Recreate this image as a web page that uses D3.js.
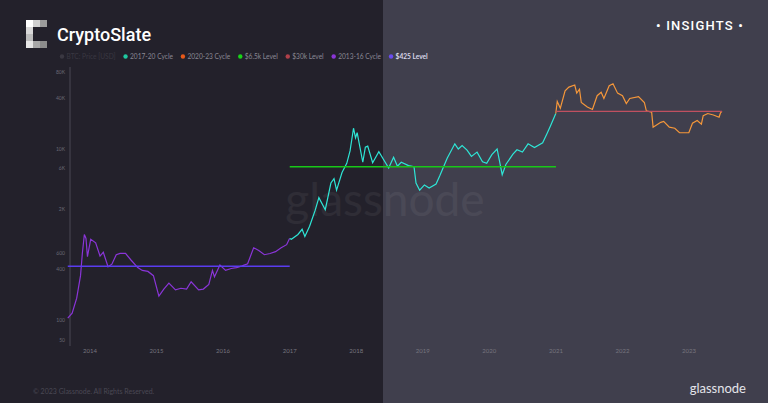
<!DOCTYPE html>
<html><head><meta charset="utf-8">
<script src="https://cdn.jsdelivr.net/npm/d3@7"></script>
<style>body{margin:0;background:#23212b}svg{display:block}</style>
</head><body>
<div class="chart"></div>
<script>
// BTC price (approximate)
var cycle1316 = [["2013-09-01",105],["2013-09-25",120],["2013-10-20",180],["2013-11-10",330],["2013-11-20",600],["2013-12-01",1000],["2013-12-10",900],["2013-12-18",550],["2014-01-05",880],["2014-02-01",800],["2014-02-25",560],["2014-03-15",620],["2014-04-10",420],["2014-05-01",450],["2014-05-25",580],["2014-06-15",600],["2014-07-15",600],["2014-08-15",500],["2014-09-20",410],["2014-10-15",380],["2014-11-15",370],["2014-12-15",330],["2015-01-14",190],["2015-02-10",230],["2015-03-10",270],["2015-04-15",225],["2015-05-15",235],["2015-06-15",230],["2015-07-10",280],["2015-08-20",225],["2015-09-15",230],["2015-10-15",260],["2015-11-04",380],["2015-11-15",320],["2015-12-15",440],["2016-01-15",380],["2016-02-15",400],["2016-03-15",410],["2016-04-15",430],["2016-05-15",455],["2016-06-17",700],["2016-07-15",650],["2016-08-15",580],["2016-09-15",600],["2016-10-15",630],["2016-11-15",700],["2016-12-15",760],["2016-12-31",900]];
var cycle1720 = [["2017-01-01",900],["2017-01-10",880],["2017-02-15",1000],["2017-03-10",1150],["2017-03-25",950],["2017-04-20",1250],["2017-05-20",1900],["2017-06-10",2700],["2017-07-15",1950],["2017-08-15",4000],["2017-09-01",4500],["2017-09-15",3300],["2017-10-15",5300],["2017-11-10",6800],["2017-11-28",9500],["2017-12-17",17500],["2017-12-28",13500],["2018-01-06",15500],["2018-02-06",7000],["2018-02-20",10500],["2018-03-05",10800],["2018-04-01",6900],["2018-05-05",9300],["2018-06-28",6000],["2018-07-25",8000],["2018-08-15",6300],["2018-09-05",7000],["2018-10-15",6400],["2018-11-14",6200],["2018-11-25",4000],["2018-12-15",3300],["2019-01-10",3800],["2019-02-05",3500],["2019-03-15",3900],["2019-04-05",4900],["2019-05-15",7800],["2019-06-26",11500],["2019-07-15",10000],["2019-08-05",11000],["2019-09-01",9700],["2019-09-25",8200],["2019-10-26",9200],["2019-11-25",7100],["2019-12-18",6800],["2020-01-15",8600],["2020-02-13",10000],["2020-03-12",5000],["2020-04-01",6600],["2020-05-10",8700],["2020-06-01",9800],["2020-07-01",9200],["2020-08-01",11500],["2020-09-05",10400],["2020-10-20",11800],["2020-11-15",15500],["2020-12-01",18500],["2020-12-31",26000]];
var cycle2023 = [["2020-12-31",26000],["2021-01-08",36000],["2021-01-25",30000],["2021-02-20",48000],["2021-03-13",53000],["2021-04-14",56000],["2021-04-25",45000],["2021-05-10",50000],["2021-05-20",35000],["2021-06-22",31000],["2021-07-20",29000],["2021-08-15",42000],["2021-09-06",46000],["2021-09-21",39000],["2021-10-20",55000],["2021-11-10",58000],["2021-12-05",45000],["2022-01-01",42000],["2022-01-22",34000],["2022-02-10",39000],["2022-03-30",41000],["2022-05-01",35000],["2022-05-12",28000],["2022-06-10",27000],["2022-06-18",18000],["2022-07-30",20500],["2022-08-15",21000],["2022-09-15",18000],["2022-10-15",17500],["2022-11-10",15500],["2022-12-31",15500],["2023-01-20",20000],["2023-02-15",21500],["2023-03-10",19500],["2023-03-20",24500],["2023-04-14",26000],["2023-05-15",25000],["2023-06-15",23500],["2023-06-23",26500],["2023-07-01",27500]];
var levels = [["$425 Level",425,"2013-09-01","2017-01-01"],["$6.5k Level",6200,"2017-01-01","2021-01-01"],["$30k Level",27500,"2021-01-01","2023-07-01"]];
var yTicks = [50,100,400,600,2000,6000,10000,40000,80000];
var yTickLabels = ["50","100","400","600","2K","6K","10K","40K","80K"];
var legendNames = ["BTC: Price [USD]","2017-20 Cycle","2020-23 Cycle","$6.5k Level","$30k Level","2013-16 Cycle","$425 Level"];
var legendColors = ["#3a3842","#1fc9a0","#e8591a","#18d418","#b0404a","#8a35d8","#6a4cf0"];

var W = 768, H = 403;
var svg = d3.select(".chart").append("svg").attr("width", W).attr("height", H);
var parse = d3.timeParse("%Y-%m-%d");

svg.append("rect").attr("width", W).attr("height", H).attr("fill", "#23212b");
svg.append("rect").attr("x", 383).attr("width", W - 383).attr("height", H).attr("fill", "#403f4d");

var x = d3.scaleTime().domain([new Date(2014,0,1), new Date(2023,0,1)]).range([90, 689]);
var y = d3.scaleLog().domain([100, 10000]).range([320, 149]);

// watermark
svg.append("text").attr("x", 385).attr("y", 216).attr("text-anchor", "middle")
  .attr("font-family", "Lato").attr("font-size", 46).attr("fill", "#ffffff").attr("opacity", 0.05).text("glassnode");

// axes
svg.append("line").attr("x1", 70).attr("x2", 70).attr("y1", 67).attr("y2", 346).attr("stroke", "#4a4854");
yTicks.forEach(function(t, i) {
  svg.append("text").attr("x", 65).attr("y", (t == 50 ? 340 : y(t)) + 2).attr("text-anchor", "end")
    .attr("font-family", "Lato").attr("font-size", 5).attr("fill", "#6a6874").text(yTickLabels[i]);
});
d3.range(2014, 2024).forEach(function(yr) {
  svg.append("text").attr("x", x(new Date(yr,0,1))).attr("y", 353).attr("text-anchor", "middle")
    .attr("font-family", "Lato").attr("font-size", 6).attr("fill", "#77757f").text(yr);
});

var line = d3.line().x(function(d){ return x(parse(d[0])); }).y(function(d){ return y(d[1]); });
[[cycle1316,"#8a35d8"],[cycle1720,"#2ee6d6"],[cycle2023,"#f5973a"]].forEach(function(s) {
  svg.append("path").datum(s[0]).attr("d", line).attr("fill", "none").attr("stroke", s[1]).attr("stroke-width", 1.2);
});
var levelColors = ["#5a3cf0","#18c818","#c05060"];
levels.forEach(function(l, i) {
  svg.append("line").attr("x1", x(parse(l[2]))).attr("x2", x(parse(l[3])))
    .attr("y1", y(l[1])).attr("y2", y(l[1])).attr("stroke", levelColors[i]).attr("stroke-width", 1.3);
});

// legend
var lx = 62;
legendNames.forEach(function(n, i) {
  svg.append("circle").attr("cx", lx).attr("cy", 56.5).attr("r", 2.2).attr("fill", legendColors[i]);
  var t = svg.append("text").attr("x", lx + 4.5).attr("y", 58.8).attr("font-family", "Lato").attr("font-size", 6.6)
    .attr("fill", i == 0 ? "#3a3842" : (i == 6 ? "#d8d6e8" : "#8a8894")).attr("font-weight", i == 6 ? 700 : 400).text(n);
  lx += 4.5 + t.node().getComputedTextLength() + 10;
});

// header
var logo = [[26,20,"#ffffff"],[26,27,"#d8d8d8"],[26,34,"#bcbcbc"],[26,41,"#e6e6e6"],[33,20,"#cfcfcf"],[40,20,"#9c9c9c"],[33,41,"#a8a8a8"],[40,41,"#8c8c8c"]];
logo.forEach(function(b){ svg.append("rect").attr("x", b[0]).attr("y", b[1]).attr("width", 7).attr("height", 7).attr("fill", b[2]); });
svg.append("text").attr("x", 57).attr("y", 41).attr("font-family", "Roboto").attr("font-size", 18).attr("font-weight", 500)
  .attr("fill", "#ffffff").text("CryptoSlate");
svg.append("text").attr("x", 700).attr("y", 30).attr("text-anchor", "middle").attr("font-family", "Roboto").attr("font-size", 13)
  .attr("font-weight", 500).attr("letter-spacing", 1.2).attr("fill", "#ffffff").text("• INSIGHTS •");

// footer
svg.append("text").attr("x", 33).attr("y", 394).attr("font-family", "Lato").attr("font-size", 7).attr("fill", "#4a4854")
  .text("© 2023 Glassnode. All Rights Reserved.");
svg.append("text").attr("x", 746).attr("y", 393).attr("text-anchor", "end").attr("font-family", "Lato").attr("font-size", 13)
  .attr("fill", "#e4e4ea").text("glassnode");
</script>
</body></html>
